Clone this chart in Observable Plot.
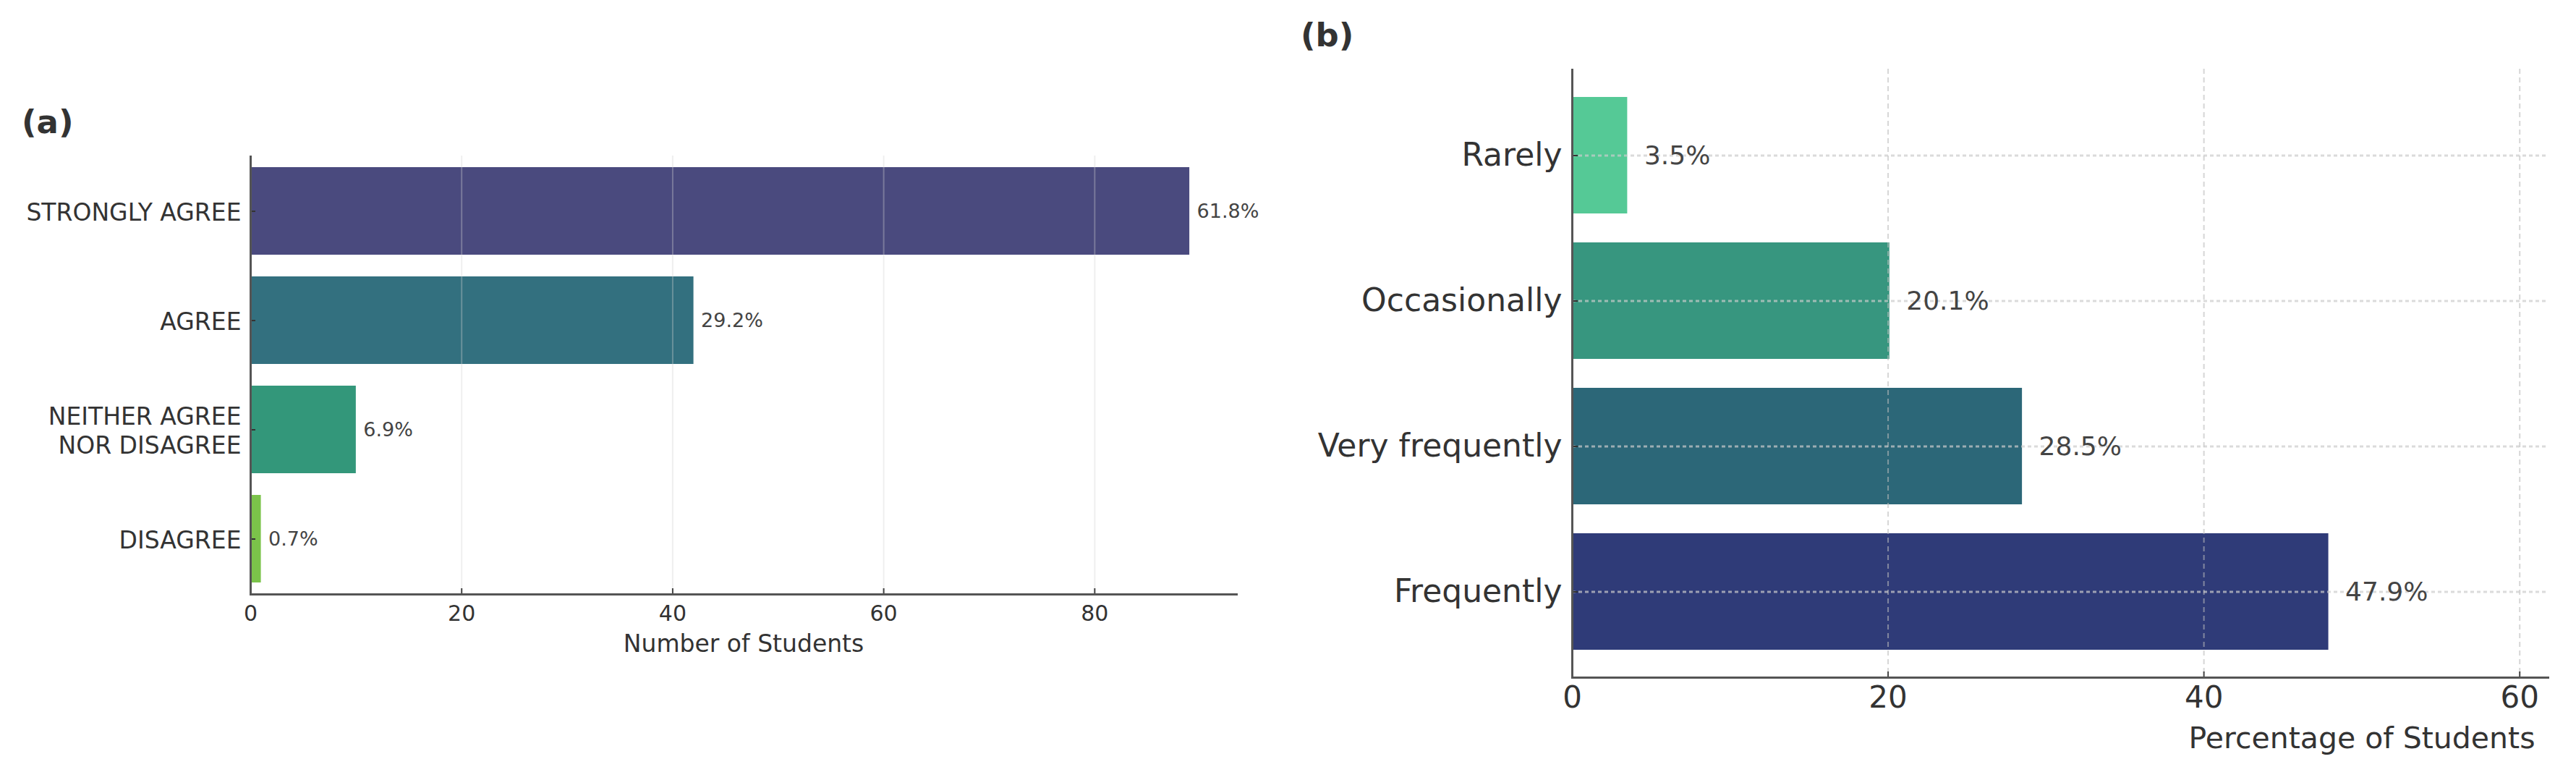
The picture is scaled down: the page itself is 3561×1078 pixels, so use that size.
<!DOCTYPE html>
<html><head><meta charset="utf-8">
<script src="https://cdn.jsdelivr.net/npm/d3@7"></script>
<script src="https://cdn.jsdelivr.net/npm/@observablehq/plot@0.6"></script>
<style>
html,body{margin:0;padding:0;background:#fff;}
#wrap{position:relative;width:3561px;height:1078px;overflow:hidden;font-family:"DejaVu Sans";}
.panel{position:absolute;top:0;}
.tag{position:absolute;font-weight:bold;font-family:"DejaVu Sans";color:#333;font-size:45px;line-height:1;}
</style></head><body>
<div id="wrap">
<div class="panel" id="pa" style="left:0px"></div>
<div class="panel" id="pb" style="left:1760px"></div>
<div class="tag" style="left:30px;top:146px;">(a)</div>
<div class="tag" style="left:1798px;top:26px;">(b)</div>
</div>
<script>
// Panel (a)
const agreementCategories = ["STRONGLY AGREE", "AGREE", "NEITHER AGREE\nNOR DISAGREE", "DISAGREE"];
const agreementCounts = [89, 42, 10, 1];
const agreementPercents = [61.8, 29.2, 6.9, 0.7];
const agreementColors = ["#4a4a7e", "#33707f", "#33977a", "#7bc34a"];
const agreementTicks = [0, 20, 40, 60, 80];

// Panel (b)
const usageCategories = ["Rarely", "Occasionally", "Very frequently", "Frequently"];
const usagePercents = [3.5, 20.1, 28.5, 47.9];
const usageColors = ["#55c996", "#37967f", "#2c6778", "#2f3b78"];
const usageTicks = [0, 20, 40, 60];

const dataA = agreementCategories.map((c, i) => ({category: c, count: agreementCounts[i], pct: agreementPercents[i], color: agreementColors[i]}));
const dataB = usageCategories.map((c, i) => ({category: c, pct: usagePercents[i], color: usageColors[i]}));

const plotA = Plot.plot({
  width: 1760, height: 1078,
  marginLeft: 346, marginRight: 51, marginTop: 215, marginBottom: 257,
  style: {fontFamily: "DejaVu Sans", background: "white", overflow: "visible"},
  x: {domain: [0, 93.45]},
  y: {domain: agreementCategories, paddingInner: 0.2, paddingOuter: 0.1},
  marks: [
    Plot.barX(dataA, {x: "count", y: "category", fill: "color"}),
    Plot.gridX({ticks: [20, 40, 60, 80], stroke: "#d0d0d0", strokeOpacity: 0.35, strokeWidth: 2}),
    Plot.text(dataA, {x: "count", y: "category", text: d => d.pct.toFixed(1) + "%", dx: 10, textAnchor: "start", fontSize: 27, fill: "#444"}),
    Plot.axisX({ticks: agreementTicks, tickSize: 0, tickPadding: 15, fontSize: 30, fill: "#333", label: null}),
    Plot.axisX({ticks: agreementTicks, tickSize: -8, tickFormat: () => "", label: null, strokeWidth: 2, stroke: "#444"}),
    Plot.axisY({tickSize: 0, tickPadding: 13, fontSize: 33, fill: "#333", lineHeight: 1.22, label: null}),
    Plot.axisY({tickSize: -7, tickFormat: () => "", label: null, strokeWidth: 2, stroke: "#333"}),
    Plot.text(["Number of Students"], {text: d => d, frameAnchor: "bottom", dy: 69, fontSize: 33, fill: "#333", lineAnchor: "middle"}),
    Plot.ruleX([0], {stroke: "#555", strokeWidth: 3}),
    Plot.frame({anchor: "bottom", stroke: "#555", strokeWidth: 3})
  ]
});
document.getElementById("pa").appendChild(plotA);

const plotB = Plot.plot({
  width: 1801, height: 1078,
  marginLeft: 413, marginRight: 39, marginTop: 95, marginBottom: 142,
  style: {fontFamily: "DejaVu Sans", background: "white", overflow: "visible"},
  x: {domain: [0, 61.8]},
  y: {domain: usageCategories, paddingInner: 0.2, paddingOuter: 0.19},
  marks: [
    Plot.barX(dataB, {x: "pct", y: "category", fill: "color"}),
    Plot.gridX({ticks: [20, 40, 60], stroke: "#bbbbbb", strokeOpacity: 0.6, strokeWidth: 2, strokeDasharray: "7,5"}),
    Plot.gridY({stroke: "#cccccc", strokeOpacity: 0.7, strokeWidth: 3, strokeDasharray: "5,4"}),
    Plot.text(dataB, {x: "pct", y: "category", text: d => d.pct.toFixed(1) + "%", dx: 23, textAnchor: "start", fontSize: 36, fill: "#444"}),
    Plot.axisX({ticks: usageTicks, tickSize: 0, tickPadding: 12, fontSize: 42, fill: "#333", label: null}),
    Plot.axisX({ticks: usageTicks, tickSize: -8, tickFormat: () => "", label: null, strokeWidth: 2, stroke: "#444"}),
    Plot.axisY({tickSize: 0, tickPadding: 14, fontSize: 44, fill: "#333", label: null}),
    Plot.axisY({tickSize: -8, tickFormat: () => "", label: null, strokeWidth: 2, stroke: "#333"}),
    Plot.text(["Percentage of Students"], {text: d => d, frameAnchor: "bottom-right", textAnchor: "end", dx: -18, dy: 84, fontSize: 41, fill: "#333", lineAnchor: "middle"}),
    Plot.ruleX([0], {stroke: "#555", strokeWidth: 3}),
    Plot.frame({anchor: "bottom", stroke: "#555", strokeWidth: 3})
  ]
});
document.getElementById("pb").appendChild(plotB);
</script>
</body></html>
